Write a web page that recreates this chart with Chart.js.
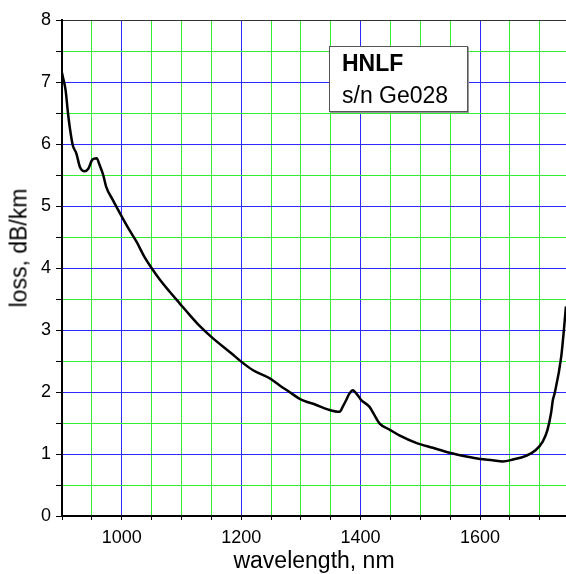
<!DOCTYPE html>
<html>
<head>
<meta charset="utf-8">
<script src="https://cdn.jsdelivr.net/npm/chart.js@4/dist/chart.umd.min.js"></script>
<style>
  body { margin: 0; background: #fff; }
  #wrap { position: relative; width: 566px; height: 574px; }
  #lossLabel {
    position: absolute; left: 19px; top: 248px;
    transform: translate(-50%, -50%) rotate(-90deg);
    font: 23px "Liberation Sans", Arial, sans-serif; white-space: nowrap; color: #000;
  }
  #tag {
    position: absolute; left: 329px; top: 46px; width: 137px; height: 64px;
    background: #fff; border: 1px solid #555; box-shadow: 1px 1px 0 #999;
    font: 23px "Liberation Sans", Arial, sans-serif; color: #000;
  }
  #tag b { position: absolute; left: 12px; top: 3px; }
  #tag span { position: absolute; left: 12px; top: 35px; white-space: nowrap; }
</style>
</head>
<body>
<div id="wrap">
  <canvas id="lossChart" width="566" height="574"></canvas>
  <div id="lossLabel">loss, dB/km</div>
  <div id="tag"><b>HNLF</b><span>s/n Ge028</span></div>
</div>
<script>
// spectral loss
const wavelengths = [900, 901, 906, 910, 913, 918, 924, 930, 938, 944, 951, 958, 963, 969, 974, 985,
  999, 1013, 1025, 1038, 1050, 1064, 1080, 1097, 1114, 1130, 1150, 1184, 1200, 1220, 1248, 1264,
  1281, 1298, 1326, 1345, 1365, 1370, 1376, 1381, 1387, 1395, 1401, 1415, 1423, 1432, 1449, 1465,
  1493, 1521, 1549, 1577, 1600, 1621, 1638, 1655, 1677, 1693, 1705, 1713, 1719, 1722, 1725, 1736, 1744];
const lossValues = [7.15, 7.1, 6.87, 6.5, 6.27, 5.98, 5.85, 5.63, 5.56, 5.6, 5.75, 5.77, 5.66, 5.5, 5.31, 5.1,
  4.85, 4.61, 4.42, 4.18, 4.0, 3.81, 3.62, 3.43, 3.24, 3.07, 2.89, 2.62, 2.49, 2.35, 2.22, 2.11,
  2.0, 1.89, 1.79, 1.72, 1.68, 1.76, 1.87, 1.97, 2.03, 1.95, 1.87, 1.76, 1.63, 1.49, 1.39, 1.3,
  1.18, 1.1, 1.02, 0.96, 0.92, 0.9, 0.88, 0.91, 0.97, 1.06, 1.2, 1.39, 1.66, 1.87, 1.98, 2.57, 3.38];

const xLabelTicks = [1000, 1200, 1400, 1600];
const yLabelTicks = [0, 1, 2, 3, 4, 5, 6, 7, 8];

const blue = "#2b2bff";
const green = "#33ee33";
const tickFont = { family: "'Liberation Sans', Arial, sans-serif", size: 18 };

const points = wavelengths.map((w, i) => ({ x: w, y: lossValues[i] }));

new Chart(document.getElementById("lossChart"), {
  type: "line",
  data: {
    datasets: [{
      data: points,
      borderColor: "#000",
      borderWidth: 2.5,
      pointRadius: 0,
      cubicInterpolationMode: "monotone",
      fill: false
    }]
  },
  options: {
    responsive: false,
    animation: false,
    layout: { padding: { top: 20, right: 0, left: 0, bottom: 0 } },
    plugins: { legend: { display: false }, tooltip: { enabled: false } },
    scales: {
      x: {
        type: "linear",
        min: 900,
        max: 1744,
        afterFit: s => { s.height = 58; },
        border: { color: "#000", width: 2 },
        grid: {
          color: c => c.tick.value % 200 === 0 ? blue : (c.tick.value % 50 === 0 ? green : "transparent"),
          tickColor: c => c.tick.value % 50 === 0 ? "#000" : "transparent",
          lineWidth: 1,
          tickLength: 4
        },
        ticks: {
          stepSize: 50,
          includeBounds: false,
          autoSkip: false,
          maxRotation: 0,
          padding: 7,
          color: "#000",
          font: tickFont,
          callback: v => xLabelTicks.includes(v) ? String(v) : ""
        },
        title: {
          display: true,
          text: "wavelength, nm",
          color: "#000",
          padding: 0,
          font: { family: "'Liberation Sans', Arial, sans-serif", size: 23, lineHeight: 1.05 }
        }
      },
      y: {
        min: 0,
        max: 8,
        afterFit: s => { s.width = 62; },
        border: { color: "#000", width: 2 },
        grid: {
          color: c => c.tick.value === 8 ? "#333" : (Number.isInteger(c.tick.value) ? blue : green),
          tickColor: "#000",
          lineWidth: 1,
          tickLength: 6
        },
        ticks: {
          stepSize: 0.5,
          autoSkip: false,
          padding: 5,
          color: "#000",
          font: tickFont,
          callback: v => yLabelTicks.includes(v) ? String(v) : ""
        }
      }
    }
  }
});
</script>
</body>
</html>
